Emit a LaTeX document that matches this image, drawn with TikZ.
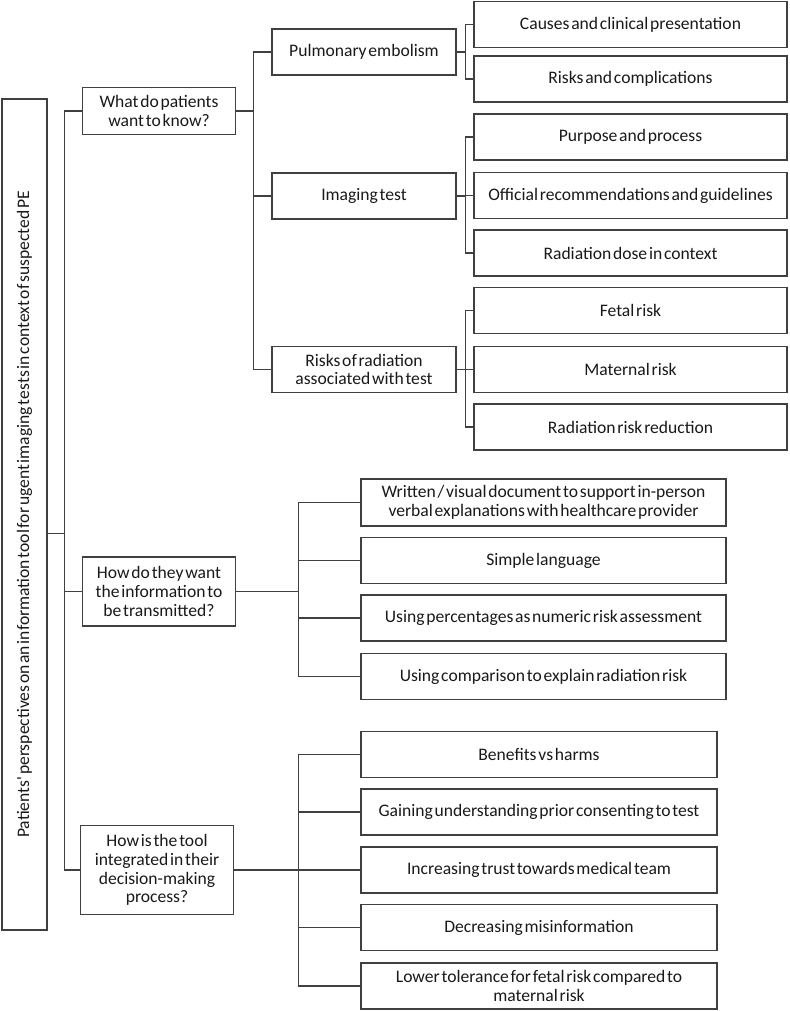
\documentclass[tikz,border=0pt]{standalone}
\usepackage{fontspec}
\setmainfont{Carlito}[WordSpace=0.45]
\usetikzlibrary{positioning}

\begin{document}
\begin{tikzpicture}[
  x=0.025cm, y=-0.025cm,
  every node/.style={font=\fontsize{12.5}{13.4}\selectfont, text=black!90},
  rootbox/.style={rectangle, draw=black!75, line width=0.9pt, rotate=90,
                  minimum width=20.775cm, minimum height=1.125cm, inner sep=2pt},
  qbox/.style={rectangle, draw=black!75, line width=0.9pt, align=center,
               minimum width=3.825cm, inner sep=2pt},
  subbox/.style={rectangle, draw=black!75, line width=0.9pt, align=center,
                 minimum width=4.6cm, minimum height=1.15cm, inner sep=2pt},
  leaf/.style={rectangle, draw=black!75, line width=0.9pt, align=center,
               minimum width=7.825cm, minimum height=1.15cm, inner sep=2pt},
  link/.style={draw=black!75, line width=0.9pt},
]
\useasboundingbox (0,0) rectangle (789,1011);

% ----------------------------------------------------------------- root --
\node[rootbox] (root) at (24.5,514.5)
  {Patients\textquotesingle\ perspectives on an information tool for ugent imaging tests in context of suspected PE};

% -------------------------------------------------------------- questions --
\node[qbox, minimum height=1.175cm] (know) at (159,111) {What do patients\\want to know?};
\node[qbox, minimum height=1.725cm] (how)  at (159,591.5) {How do they want\\the information to\\be transmitted?};
\node[qbox, minimum height=2.225cm] (tool) at (157,870) {How is the tool\\integrated in their\\decision-making\\process?};

% ------------------------------------------------------------ sub-topics --
\node[subbox] (pe)  at (364,52)  {Pulmonary embolism};
\node[subbox] (img) at (364,196) {Imaging test};
\node[subbox] (rad) at (364,369.5) {Risks of radiation\\associated with test};

% ---------------------------------------------------------------- leaves --
\node[leaf] (cause) at (630.5,24.5)  {Causes and clinical presentation};
\node[leaf] (compl) at (630.5,79)    {Risks and complications};
\node[leaf] (purp)  at (630.5,137)   {Purpose and process};
\node[leaf] (guide) at (630.5,195.5) {Official recommendations and guidelines};
\node[leaf] (dose)  at (630.5,253)   {Radiation dose in context};
\node[leaf] (fetal) at (630.5,310.5) {Fetal risk};
\node[leaf] (mat)   at (630.5,369.5) {Maternal risk};
\node[leaf] (red)   at (630.5,427)   {Radiation risk reduction};

\node[leaf, minimum width=9.125cm, minimum height=1.175cm] (doc)  at (543.5,502.5) {Written / visual document to support in-person\\verbal explanations with healthcare provider};
\node[leaf, minimum width=9.125cm] (simple) at (543.5,560.5) {Simple language};
\node[leaf, minimum width=9.125cm] (perc)   at (543.5,618)   {Using percentages as numeric risk assessment};
\node[leaf, minimum width=9.125cm] (comp)   at (543.5,676.5) {Using comparison to explain radiation risk};

\node[leaf, minimum width=8.9cm] (benef) at (539,754.5) {Benefits vs harms};
\node[leaf, minimum width=8.9cm] (gain)  at (539,812)   {Gaining understanding prior consenting to test};
\node[leaf, minimum width=8.9cm] (trust) at (539,870)   {Increasing trust towards medical team};
\node[leaf, minimum width=8.9cm] (misin) at (539,927.5) {Decreasing misinformation};
\node[leaf, minimum width=8.9cm] (lower) at (539,986)   {Lower tolerance for fetal risk compared to\\maternal risk};

% ------------------------------------------------------------ connectors --
\foreach \q in {know,how,tool}
  \draw[link] ([yshift=-0.475cm]root.south) -- ++(17,0) |- (\q.west);
\foreach \s in {pe,img,rad}
  \draw[link] (know.east) -- ++(17,0) |- (\s.west);
\foreach \l in {cause,compl}
  \draw[link] (pe.east) -- ++(9,0) |- (\l.west);
\foreach \l in {purp,guide,dose}
  \draw[link] (img.east) -- ++(9,0) |- (\l.west);
\foreach \l in {fetal,mat,red}
  \draw[link] (rad.east) -- ++(9,0) |- (\l.west);
\foreach \l in {doc,simple,perc,comp}
  \draw[link] (how.east) -- ++(62,0) |- (\l.west);
\foreach \l in {benef,gain,trust,misin,lower}
  \draw[link] (tool.east) -- ++(64,0) |- (\l.west);

\end{tikzpicture}
\end{document}
